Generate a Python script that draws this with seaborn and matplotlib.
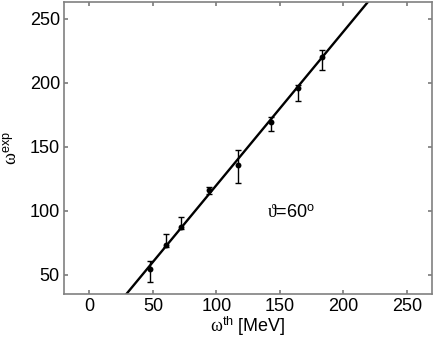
"""Experimental vs. theoretical omega at theta = 60 deg, with linear fit."""

import matplotlib
matplotlib.use("Agg")
import matplotlib.pyplot as plt
import numpy as np
import seaborn as sns

# data
omega_th = [47.5, 60.0, 72.5, 94.0, 117.0, 143.0, 164.0, 183.0]
omega_exp = [54.5, 73.5, 87.5, 116.0, 135.5, 169.5, 196.0, 220.5]
err_upper = [6.5, 8.5, 7.5, 3.0, 12.0, 3.5, 2.0, 5.5]
err_lower = [10.0, 2.0, 2.0, 2.5, 13.5, 7.0, 10.0, 10.5]

# straight-line fit omega_exp = slope * omega_th
fit_slope = 1.2
fit_x = [20.0, 240.0]

x_ticks = [0, 50, 100, 150, 200, 250]
y_ticks = [50, 100, 150, 200, 250]

sns.set_theme(style="ticks")
plt.rcParams["font.family"] = ["Liberation Sans", "DejaVu Sans"]
plt.rcParams["mathtext.fontset"] = "custom"
plt.rcParams["mathtext.rm"] = "Liberation Serif"
plt.rcParams["mathtext.it"] = "Liberation Serif"
plt.rcParams["mathtext.sf"] = "Liberation Sans"

fig = plt.figure(figsize=(4.36, 3.39), dpi=100)
ax = fig.add_axes([0.147, 0.133, 0.844, 0.860])

fit_y = fit_slope * np.asarray(fit_x)
sns.lineplot(x=fit_x, y=fit_y, color="black", linewidth=1.7, ax=ax)
ax.errorbar(
    omega_th, omega_exp, yerr=[err_lower, err_upper],
    fmt="none", ecolor="black", elinewidth=1.0, capsize=2, capthick=1.0,
)
sns.scatterplot(
    x=omega_th, y=omega_exp, color="black", s=18, edgecolor="black",
    linewidth=0, ax=ax, zorder=3,
)

ax.text(140, 98, r"$\mathrm{\vartheta}$=60$^{\mathsf{o}}$", fontsize=13,
        va="center", color="black")

ax.set_xlim(-20, 270)
ax.set_ylim(35, 263)
ax.set_xticks(x_ticks)
ax.set_yticks(y_ticks)
ax.tick_params(direction="in", top=True, right=True, length=3,
               color="#808080", labelsize=13, labelcolor="black", pad=3)
for spine in ax.spines.values():
    spine.set_visible(True)
    spine.set_color("#808080")
    spine.set_linewidth(1.2)

ax.set_xlabel(r"$\mathrm{\omega}^{\mathsf{th}}$ [MeV]", fontsize=13,
              labelpad=0, color="black")
ax.set_ylabel(r"$\mathrm{\omega}^{\mathsf{exp}}$", fontsize=13, labelpad=6,
              color="black")

fig.savefig("out.png", dpi=100)
plt.close(fig)
